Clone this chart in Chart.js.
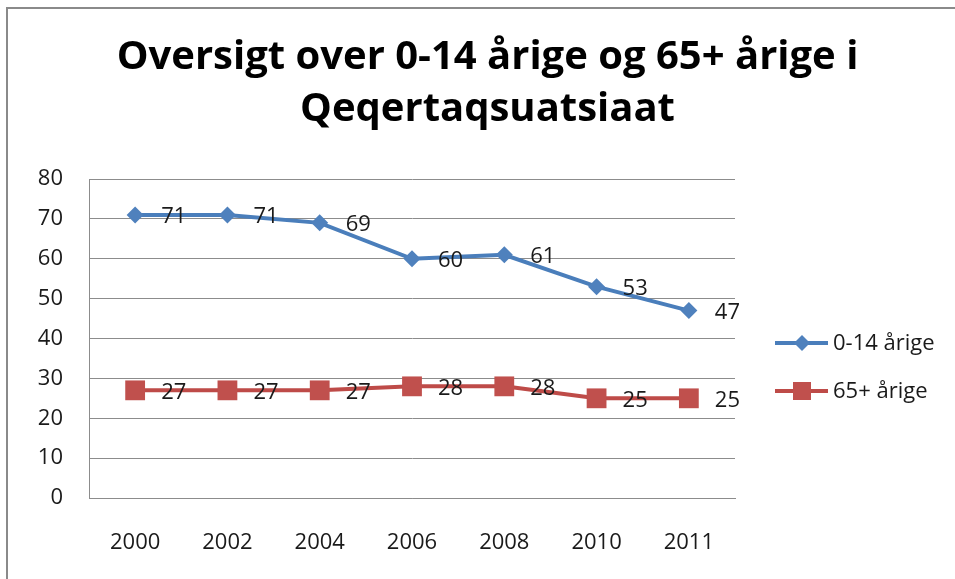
<!DOCTYPE html>
<html>
<head>
<meta charset="utf-8">
<script src="https://cdn.jsdelivr.net/npm/chart.js"></script>
<style>
  html, body { margin: 0; padding: 0; background: #fff; overflow: hidden; }
  #frame { position: absolute; left: 6px; top: 7px; width: 1000px; height: 700px;
           border-top: 2px solid #8a8a8a; border-left: 2px solid #8a8a8a; }
  #wrap { position: absolute; left: 0; top: 0; width: 955px; height: 579px; }
</style>
</head>
<body>
<div id="frame"></div>
<div id="wrap"><canvas id="chart" width="955" height="579"></canvas></div>
<script>
var years = ['2000', '2002', '2004', '2006', '2008', '2010', '2011'];
var kids = [71, 71, 69, 60, 61, 53, 47];
var elders = [27, 27, 27, 28, 28, 25, 25];
var yTicks = [0, 10, 20, 30, 40, 50, 60, 70, 80];

var FONT = '"Open Sans", Calibri, Carlito, sans-serif';
var BLUE = '#4a7ebb', BLUE_PT = '#4f81bd';
var RED = '#be4b48', RED_PT = '#c0504d';
var GRID = '#8c8c8c';
var TXT = '#1a1a1a';

// value labels right of each point
var valueLabels = {
  id: 'valueLabels',
  afterDatasetsDraw: function (chart) {
    var ctx = chart.ctx;
    ctx.save();
    ctx.font = '22px ' + FONT;
    ctx.fillStyle = TXT;
    ctx.textAlign = 'left';
    ctx.textBaseline = 'middle';
    chart.data.datasets.forEach(function (ds, i) {
      chart.getDatasetMeta(i).data.forEach(function (pt, j) {
        ctx.fillText(ds.data[j], pt.x + 26, pt.y + 2);
      });
    });
    ctx.restore();
  }
};

// legend on the right: line + marker + text
var sideLegend = {
  id: 'sideLegend',
  afterDraw: function (chart) {
    var ctx = chart.ctx, a = chart.chartArea;
    var x0 = a.right + 40;
    var items = [
      { label: '0-14 årige', line: BLUE, fill: BLUE_PT, shape: 'diamond', y: a.top + 164 },
      { label: '65+ årige', line: RED, fill: RED_PT, shape: 'square', y: a.top + 212 }
    ];
    ctx.save();
    items.forEach(function (it) {
      ctx.strokeStyle = it.line;
      ctx.lineWidth = 4;
      ctx.beginPath();
      ctx.moveTo(x0, it.y);
      ctx.lineTo(x0 + 53, it.y);
      ctx.stroke();
      ctx.fillStyle = it.fill;
      var cx = x0 + 27;
      ctx.beginPath();
      if (it.shape === 'diamond') {
        ctx.moveTo(cx, it.y - 8); ctx.lineTo(cx + 8, it.y);
        ctx.lineTo(cx, it.y + 8); ctx.lineTo(cx - 8, it.y);
        ctx.closePath();
      } else {
        ctx.rect(cx - 9, it.y - 9, 18, 18);
      }
      ctx.fill();
      ctx.fillStyle = TXT;
      ctx.font = '22px ' + FONT;
      ctx.textAlign = 'left';
      ctx.textBaseline = 'middle';
      ctx.fillText(it.label, x0 + 58, it.y + 1);
    });
    ctx.restore();
  }
};

var ctx = document.getElementById('chart').getContext('2d');
var chart = new Chart(ctx, {
  type: 'line',
  data: {
    labels: years,
    datasets: [{
      label: '0-14 årige',
      data: kids,
      borderColor: BLUE,
      backgroundColor: BLUE_PT,
      borderWidth: 4,
      pointStyle: 'rectRot',
      pointRadius: 8.5,
      pointBorderWidth: 0,
      tension: 0
    }, {
      label: '65+ årige',
      data: elders,
      borderColor: RED,
      backgroundColor: RED_PT,
      borderWidth: 4,
      pointStyle: 'rect',
      pointRadius: 14,
      pointBorderWidth: 0,
      tension: 0
    }]
  },
  options: {
    responsive: false,
    animation: false,
    events: [],
    layout: { padding: { left: 20, right: 0, top: 0, bottom: 0 } },
    plugins: {
      legend: { display: false },
      tooltip: { enabled: false },
      title: {
        display: true,
        text: ['Oversigt over 0-14 årige og 65+ årige i', 'Qeqertaqsuatsiaat'],
        color: '#000',
        font: { family: FONT, size: 40, weight: 'bold', lineHeight: 1.3 },
        padding: { top: 32, bottom: 43 }
      }
    },
    scales: {
      x: {
        offset: true,
        afterFit: function (scale) { scale.height = 81; },
        grid: { display: false, drawTicks: false },
        border: { display: true, color: GRID, width: 1 },
        ticks: { color: TXT, font: { family: FONT, size: 22 }, padding: 32, maxRotation: 0 }
      },
      y: {
        min: 0,
        max: 80,
        afterBuildTicks: function (scale) {
          scale.ticks = yTicks.map(function (v) { return { value: v }; });
        },
        afterFit: function (scale) { scale.width = 69; },
        grid: { color: GRID, drawTicks: false },
        border: { display: true, color: GRID, width: 1 },
        ticks: { color: TXT, font: { family: FONT, size: 22 }, padding: 26 }
      },
      // empty right-hand space reserved for the legend
      side: {
        type: 'linear',
        position: 'right',
        display: true,
        afterFit: function (scale) { scale.width = 220; },
        grid: { display: false, drawOnChartArea: false, drawTicks: false },
        border: { display: false },
        ticks: { display: false }
      }
    }
  },
  plugins: [valueLabels, sideLegend]
});
</script>
</body>
</html>
